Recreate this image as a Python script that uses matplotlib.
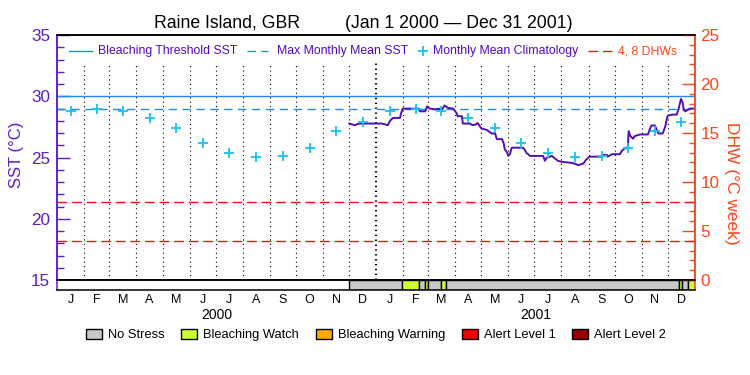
import matplotlib
matplotlib.use('Agg')
import matplotlib.pyplot as plt
from matplotlib.patches import Patch
import numpy as np
import pandas as pd

plt.rcParams['font.family'] = ['Liberation Sans', 'DejaVu Sans']

# SST time series, x in days since 1 Jan 2000
sst_day = [335, 341, 346, 372, 376, 379, 382, 385, 393, 394, 396, 414, 416, 422,
           424, 427, 433, 439, 440, 444, 448, 454, 458, 459, 464, 465, 473, 476,
           480, 482, 486, 493, 496, 498, 502, 504, 510, 512, 513, 516, 517, 519,
           521, 534, 536, 538, 542, 557, 559, 561, 567, 571, 574, 579, 590, 594,
           597, 603, 606, 610, 624, 626, 630, 631, 636, 645, 647, 651, 654, 655,
           657, 660, 662, 668, 677, 681, 685, 689, 694, 697, 699, 700, 705, 710,
           712, 715, 717, 718, 720, 725, 730]
sst_val = [27.77, 27.64, 27.77, 27.77, 27.70, 27.64, 28.04, 28.23, 28.23, 28.55,
           28.99, 28.99, 28.77, 28.77, 29.17, 29.00, 28.93, 28.99, 28.77, 29.25,
           29.05, 28.99, 28.60, 28.37, 28.37, 27.77, 27.77, 27.64, 27.70, 27.82,
           27.39, 27.23, 27.07, 26.96, 26.96, 26.50, 26.50, 26.10, 25.69, 25.37,
           25.13, 25.29, 25.80, 25.80, 25.61, 25.37, 25.13, 25.13, 24.73, 24.97,
           25.13, 24.89, 24.73, 24.64, 24.56, 24.48, 24.38, 24.50, 24.80, 25.07,
           25.07, 25.21, 25.21, 25.07, 25.27, 25.27, 25.53, 25.78, 25.78, 27.15,
           26.75, 26.53, 26.75, 26.88, 26.88, 27.61, 27.61, 26.96, 26.96, 27.55,
           28.23, 28.42, 28.50, 28.50, 28.90, 29.79, 29.44, 28.90, 28.77, 28.99,
           28.99]

# monthly mean climatology, Jan..Dec
clim_sst = [28.8, 29.0, 28.8, 28.2, 27.4, 26.2, 25.35, 25.05, 25.1, 25.75, 27.2, 27.9]
mmm_sst = 29.0
threshold_sst = 30.0
dhw_levels = [4, 8]

# stress level bar (days since 1 Jan 2000)
status_start = [335, 395, 415, 422, 425, 440, 446, 713, 716, 723]
status_end = [395, 415, 422, 425, 440, 446, 713, 716, 723, 731]
status_level = [0, 1, 0, 1, 0, 1, 0, 1, 0, 1]
status_names = ['No Stress', 'Bleaching Watch', 'Bleaching Warning',
                'Alert Level 1', 'Alert Level 2']
status_colors = ['#c8c8c8', '#ccff33', '#ffaa00', '#f00000', '#960000']

month_letters = list('JFMAMJJASOND')
year_labels = ['2000', '2001']

purple = '#5a1ec8'
text_purple = '#5008c0'
orange = '#ff4418'
blue = '#1e8cf0'
cyan = '#14c3f0'
red = '#f01010'
sst_color = '#5010b4'

t0 = pd.Timestamp('2000-01-01')
mstart = np.array((pd.date_range('2000-01-01', periods=25, freq='MS') - t0).days, dtype=float)
mmid = (mstart[:-1] + mstart[1:]) / 2
ystart = np.array((pd.date_range('2000-01-01', periods=3, freq='YS') - t0).days, dtype=float)
ymid = (ystart[:-1] + ystart[1:]) / 2

fig = plt.figure(figsize=(7.5, 3.75), dpi=100)
L, W = 57 / 750, 638 / 750
ax = fig.add_axes([L, 1 - 280 / 375, W, 245 / 375])
sb = fig.add_axes([L, 1 - 290 / 375, W, 10 / 375])
ax2 = ax.twinx()

ax.set_xlim(mstart[0], mstart[-1])
ax.set_ylim(15, 35)
ax2.set_ylim(0, 25)

# month grid
for i, d in enumerate(mstart[1:-1], start=1):
    thick = (i % 12 == 0)
    ax.axvline(d, ymin=0, ymax=0.886, color='black',
               lw=1.6 if thick else 0.8, ls=(0, (1, 3)) if not thick else (0, (0.6, 1.6)))

ax.axhline(threshold_sst, color=blue, lw=1.0)
ax.axhline(mmm_sst, color=blue, lw=1.0, ls=(0, (6, 4)))
for lv in dhw_levels:
    ax2.axhline(lv, color=red, lw=1.0, ls=(0, (7, 3.5)))

ax.plot(sst_day, sst_val, color=sst_color, lw=1.4, zorder=3)
ax.plot(mmid, clim_sst * 2, ls='none', marker='+', ms=7, mew=1.3, color=cyan, zorder=4)

# axes styling
ax.set_yticks(range(15, 36, 5))
ax.set_yticks(range(15, 36), minor=True)
ax.tick_params(axis='y', which='both', direction='in', colors=purple,
               labelsize=12.3, pad=5, width=1)
ax.tick_params(axis='y', which='major', length=9.4)
ax.tick_params(axis='y', which='minor', length=5)
ax.tick_params(axis='x', which='both', bottom=False, labelbottom=False)
ax2.set_yticks(range(0, 26, 5))
ax2.set_yticks(range(0, 26), minor=True)
ax2.tick_params(axis='y', which='both', direction='in', colors=orange,
                labelsize=12.3, pad=4, width=1)
ax2.tick_params(axis='y', which='major', length=9.4)
ax2.tick_params(axis='y', which='minor', length=4.5)
for a in (ax, ax2, sb):
    a.spines['left'].set_color(purple)
    a.spines['right'].set_color(orange)
    a.spines['top'].set_color('black')
    a.spines['bottom'].set_color('black')
    for s in a.spines.values():
        s.set_linewidth(1.1)

# stress bar
sb.barh(0.5, np.subtract(status_end, status_start), left=status_start, height=1,
        color=[status_colors[k] for k in status_level], edgecolor='black', lw=1)
sb.set_xlim(mstart[0], mstart[-1])
sb.set_ylim(0, 1)
sb.set_yticks([])
sb.set_xticks(mmid)
sb.set_xticklabels(month_letters * 2)
sb.tick_params(axis='x', length=0, labelsize=9, pad=3)
for xm, yl in zip(ymid, year_labels):
    sb.text(xm, -2.5, yl, transform=sb.get_xaxis_transform(), ha='center',
            va='center', fontsize=10)

# top legend
ly = (280 - 51) / 245
fx = lambda px: (px - 57) / 638
ax.plot([fx(69), fx(92)], [ly, ly], transform=ax.transAxes, color=blue, lw=1.0)
ax.text(fx(98), ly, 'Bleaching Threshold SST', transform=ax.transAxes,
        color=text_purple, fontsize=8.8, va='center')
ax.plot([fx(247), fx(268)], [ly, ly], transform=ax.transAxes, color=blue, lw=1.0,
        ls=(0, (6, 4)))
ax.text(fx(277), ly, 'Max Monthly Mean SST', transform=ax.transAxes,
        color=text_purple, fontsize=8.8, va='center')
ax.plot([fx(423)], [ly], transform=ax.transAxes, marker='+', ms=7, mew=1.3,
        color=cyan, ls='none')
ax.text(fx(433), ly, 'Monthly Mean Climatology', transform=ax.transAxes,
        color=text_purple, fontsize=8.8, va='center')
ax.plot([fx(588), fx(612)], [ly, ly], transform=ax.transAxes, color=red, lw=1.0,
        ls=(0, (7, 3.5)))
ax.text(fx(618), ly, '4, 8 DHWs', transform=ax.transAxes,
        color=orange, fontsize=8.8, va='center')

# titles and axis labels
fig.text(154 / 750, 1 - 23 / 375, 'Raine Island, GBR', fontsize=12.7,
         ha='left', va='center')
fig.text(345 / 750, 1 - 23 / 375, '(Jan 1 2000 \u2014 Dec 31 2001)', fontsize=12.7,
         ha='left', va='center')
fig.text(17 / 750, 1 - 155 / 375, 'SST (\u00b0C)', rotation=90, color=purple,
         fontsize=12, ha='center', va='center')
fig.text(732 / 750, 1 - 183 / 375, 'DHW (\u00b0C week)', rotation=-90, color=orange,
         fontsize=12.5, ha='center', va='center')

# stress legend
handles = [Patch(facecolor=c, edgecolor='black', lw=1) for c in status_colors]
fig.legend(handles, status_names, ncol=5, loc='center', bbox_to_anchor=(376 / 750, 1 - 335 / 375),
           frameon=False, fontsize=9.3, handlelength=1.25, handleheight=0.8,
           handletextpad=0.45, columnspacing=1.3, borderpad=0)

fig.savefig('out.png', dpi=100)
